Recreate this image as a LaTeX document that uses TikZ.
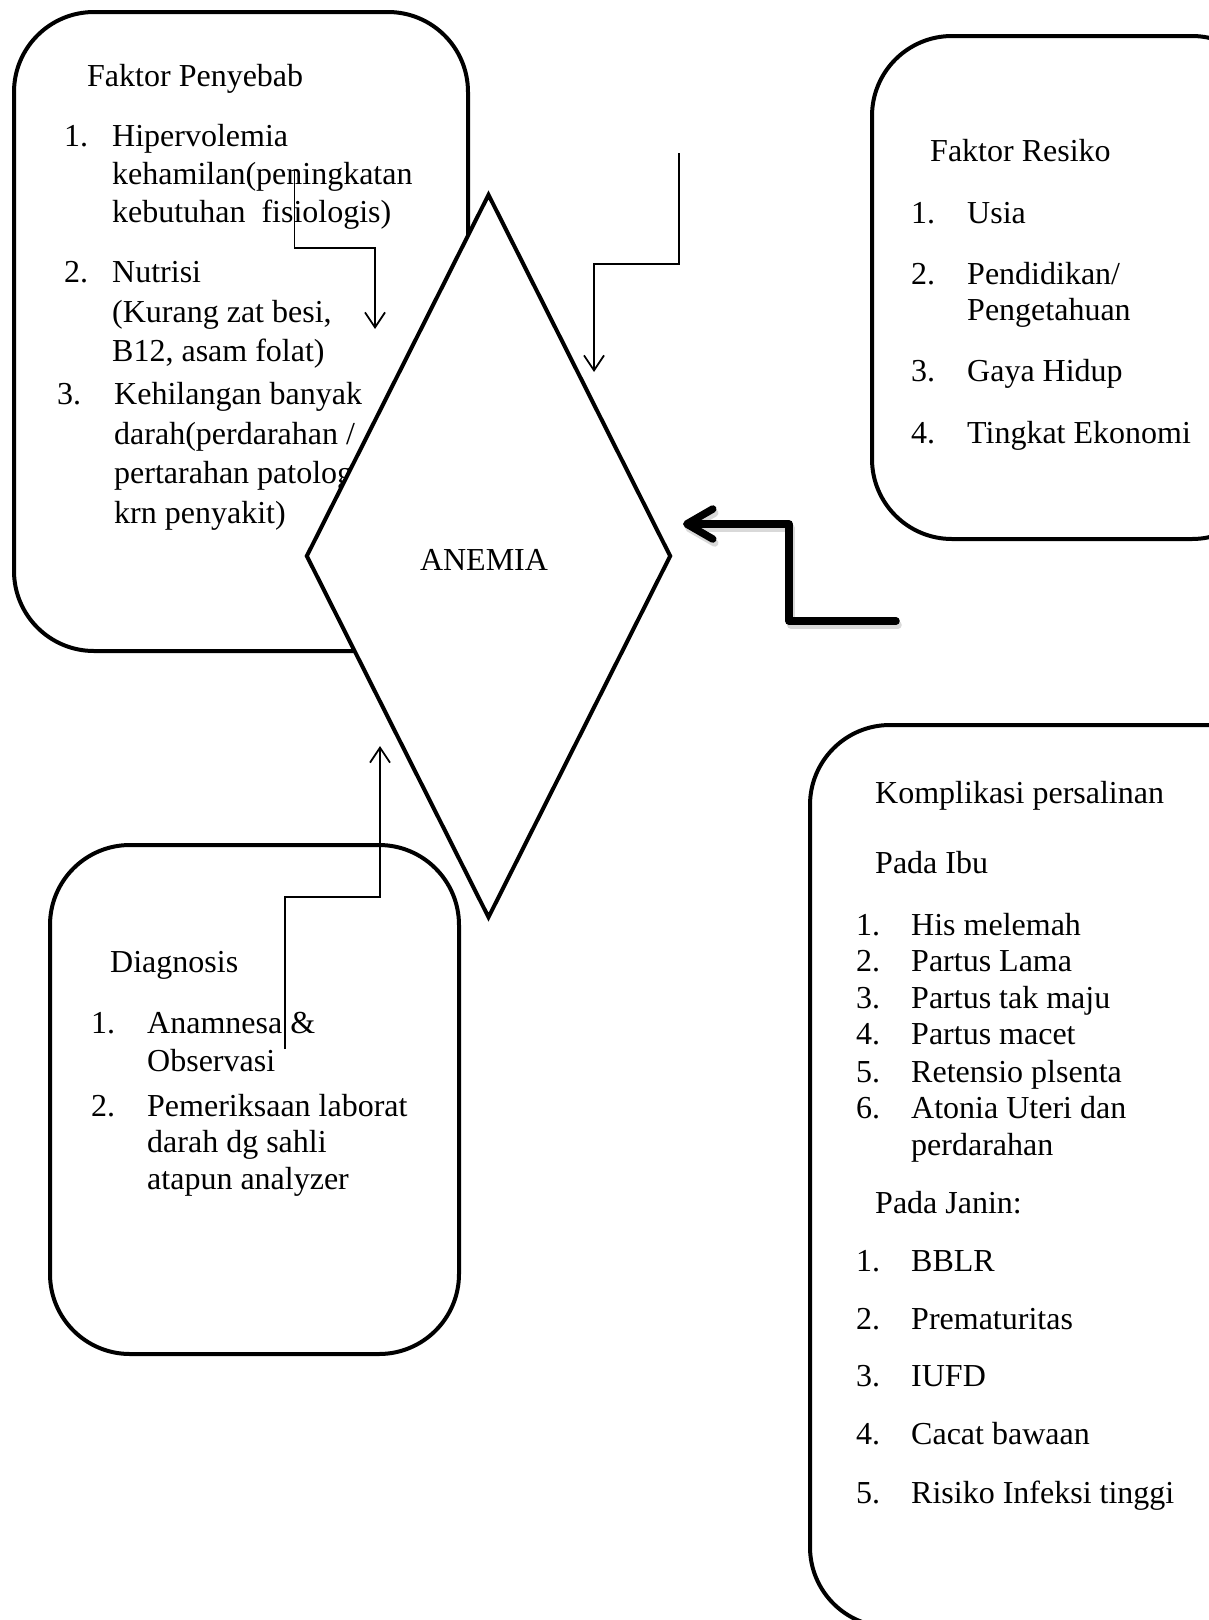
\documentclass[tikz,border=0pt]{standalone}
\usepackage{fontspec}
\setmainfont{Liberation Serif}
\usetikzlibrary{shapes.geometric,arrows.meta}
\begin{document}
\begin{tikzpicture}[x=1pt,y=-1pt,
  box/.style={draw, line width=4pt, rounded corners=80pt, rectangle, anchor=north west, inner sep=0pt},
  txt/.style={anchor=base west, inner sep=0pt, font=\fontsize{32}{38}\selectfont},
  thinarrow/.style={line width=1.8pt, -{Straight Barb[length=15pt,width=20pt]}},
  thickarrow/.style={line width=7.5pt, line join=round, line cap=round, -{Straight Barb[length=26pt,width=30pt,round]}}]
\useasboundingbox (0,0) rectangle (1209,1620);
\clip (0,0) rectangle (1209,1620);

% Box 1: Faktor Penyebab
\node[box, minimum width=454pt, minimum height=639pt] (penyebab) at (12,10) {};
\node[txt] (p0) at (87,86) {Faktor Penyebab};
\node[txt] (p1n) at (64,146) {1.};
\node[txt] (p1a) at (112,146) {Hipervolemia};
\node[txt] (p1b) at (112,184) {kehamilan(peningkatan};
\node[txt] (p1c) at (112,222) {kebutuhan\ \ fisiologis)};
\node[txt] (p2n) at (64,282) {2.};
\node[txt] (p2a) at (112,282) {Nutrisi};
\node[txt] (p2b) at (112,322) {(Kurang zat besi,};
\node[txt] (p2c) at (112,361) {B12, asam folat)};
\node[txt] (p3n) at (57,404) {3.};
\node[txt] (p3a) at (114,404) {Kehilangan banyak};
\node[txt] (p3b) at (114,444) {darah(perdarahan /};
\node[txt] (p3c) at (114,483) {pertarahan patologis};
\node[txt] (p3d) at (114,523) {krn penyakit)};

% Box 2: Faktor Resiko
\node[box, minimum width=400pt, minimum height=503pt] (resiko) at (870,34) {};
\node[txt] (r0) at (930,161) {Faktor Resiko};
\node[txt] (r1n) at (911,223) {1.};
\node[txt] (r1) at (967,223) {Usia};
\node[txt] (r2n) at (911,284) {2.};
\node[txt] (r2a) at (967,284) {Pendidikan/};
\node[txt] (r2b) at (967,320) {Pengetahuan};
\node[txt] (r3n) at (911,381) {3.};
\node[txt] (r3) at (967,381) {Gaya Hidup};
\node[txt] (r4n) at (911,443) {4.};
\node[txt] (r4) at (967,443) {Tingkat Ekonomi};

% Box 3: Diagnosis
\node[box, minimum width=409pt, minimum height=509pt] (diagnosis) at (48,843) {};
\node[txt] (d0) at (110,972) {Diagnosis};
\node[txt] (d1n) at (91,1033) {1.};
\node[txt] (d1a) at (147,1033) {Anamnesa \&};
\node[txt] (d1b) at (147,1071) {Observasi};
\node[txt] (d2n) at (91,1116) {2.};
\node[txt] (d2a) at (147,1116) {Pemeriksaan laborat};
\node[txt] (d2b) at (147,1152) {darah dg sahli};
\node[txt] (d2c) at (147,1189) {atapun analyzer};

% Box 4: Komplikasi persalinan
\node[box, minimum width=500pt, minimum height=902pt] (komplikasi) at (808,723) {};
\node[txt] (k0) at (875,803) {Komplikasi persalinan};
\node[txt] (k1) at (875,873) {Pada Ibu};
\node[txt] (ki1n) at (856,935) {1.};
\node[txt] (ki1) at (911,935) {His melemah};
\node[txt] (ki2n) at (856,971) {2.};
\node[txt] (ki2) at (911,971) {Partus Lama};
\node[txt] (ki3n) at (856,1008) {3.};
\node[txt] (ki3) at (911,1008) {Partus tak maju};
\node[txt] (ki4n) at (856,1044) {4.};
\node[txt] (ki4) at (911,1044) {Partus macet};
\node[txt] (ki5n) at (856,1082) {5.};
\node[txt] (ki5) at (911,1082) {Retensio plsenta};
\node[txt] (ki6n) at (856,1118) {6.};
\node[txt] (ki6a) at (911,1118) {Atonia Uteri dan};
\node[txt] (ki6b) at (911,1155) {perdarahan};
\node[txt] (k2) at (875,1213) {Pada Janin:};
\node[txt] (kj1n) at (856,1271) {1.};
\node[txt] (kj1) at (911,1271) {BBLR};
\node[txt] (kj2n) at (856,1329) {2.};
\node[txt] (kj2) at (911,1329) {Prematuritas};
\node[txt] (kj3n) at (856,1386) {3.};
\node[txt] (kj3) at (911,1386) {IUFD};
\node[txt] (kj4n) at (856,1444) {4.};
\node[txt] (kj4) at (911,1444) {Cacat bawaan};
\node[txt] (kj5n) at (856,1503) {5.};
\node[txt] (kj5) at (911,1503) {Risiko Infeksi tinggi};

% Central diamond
\node[diamond, draw, line width=4pt, fill=white, minimum width=365pt, minimum height=724pt,
      inner sep=0pt] (anemia) at (488.5,556) {};
\node[font=\fontsize{32}{38}\selectfont, inner sep=0pt] (anemiatext) at (484,560) {ANEMIA};

% Thin connectors
\coordinate (a1s) at (294.5,170);
\coordinate (a1e) at (375,329);
\draw[thinarrow] (a1s) -- (294.5,248) -| (a1e);

\coordinate (a2s) at (679,153);
\coordinate (a2e) at (594,372);
\draw[thinarrow] (a2s) -- (679,264) -| (a2e);

\coordinate (a3s) at (285,1049);
\coordinate (a3e) at (380,746);
\draw[thinarrow] (a3s) -- (285,897) -| (a3e);

% Thick connector
\coordinate (ts) at (896,621);
\coordinate (te) at (683,524);
\draw[thickarrow, draw=black!15] ([xshift=2pt,yshift=-4pt]ts) -- ([xshift=2pt,yshift=-4pt]789,621) -- ([xshift=2pt,yshift=-4pt]789,524) -- ([xshift=2pt,yshift=-4pt]te);
\draw[thickarrow] (ts) -- (789,621) -- (789,524) -- (te);
\end{tikzpicture}
\end{document}
